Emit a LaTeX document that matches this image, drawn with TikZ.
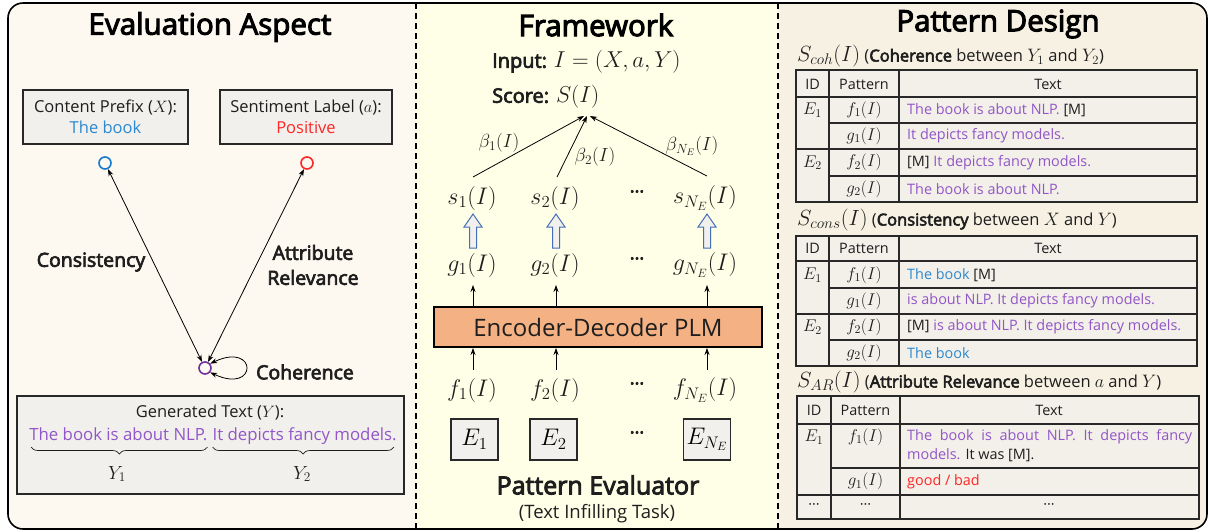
\RequirePackage{fix-cm}
\documentclass[tikz,border=0pt]{standalone}
\usepackage[no-math]{fontspec}
\setmainfont{Open Sans}[AutoFakeBold=3.5]
\usetikzlibrary{arrows.meta,decorations.pathreplacing,calc}
\definecolor{bgL}{RGB}{253,249,241}
\definecolor{bgM}{RGB}{255,255,232}
\definecolor{bgR}{RGB}{247,241,227}
\definecolor{boxg}{RGB}{242,240,236}
\definecolor{tabg}{RGB}{243,239,233}
\definecolor{tblue}{RGB}{44,137,207}
\definecolor{tred}{RGB}{255,38,38}
\definecolor{tpurp}{RGB}{145,86,200}
\definecolor{cblue}{RGB}{20,120,205}
\definecolor{cpurp}{RGB}{112,48,160}
\definecolor{plmfill}{RGB}{244,177,131}
\definecolor{ablue}{RGB}{68,110,185}
\definecolor{edge}{RGB}{40,40,40}
\definecolor{ink}{RGB}{30,30,30}
\begin{document}
\begin{tikzpicture}[x=1pt,y=-1pt,
  title/.style={font=\fontsize{29.5}{34}\selectfont\bfseries, text=black},
  lbl/.style={font=\fontsize{19.5}{25}\selectfont\bfseries, text=ink},
  txt/.style={font=\fontsize{16.5}{21}\selectfont, text=ink},
  mth/.style={font=\fontsize{24}{28}\selectfont, text=ink},
  tabtxt/.style={font=\fontsize{14.4}{19}\selectfont, text=ink, inner sep=0},
  tabmth/.style={font=\fontsize{17}{20}\selectfont, text=ink, inner sep=0},
  hd/.style={font=\fontsize{16.5}{20}\selectfont, text=ink, anchor=west, inner sep=0},
  gbox/.style={draw=edge, line width=1.2pt, fill=boxg, align=center},
  ebox/.style={draw=edge, line width=1.2pt, fill=boxg, minimum width=47, minimum height=41, font=\fontsize{24}{28}\selectfont},
  dot/.style={circle, line width=1.6pt, minimum size=12, inner sep=0, fill=none},
  arr/.style={-{Stealth[length=7pt,width=5pt]}, line width=0.8pt, black},
  darr/.style={{Stealth[length=7pt,width=5pt]}-{Stealth[length=7pt,width=5pt]}, line width=0.8pt, black},
  blk/.style={draw=ablue, fill=boxg, line width=1pt, line join=miter},
  brc/.style={decorate, decoration={brace, mirror, amplitude=7pt}, line width=0.7pt, ink},
  tabline/.style={line width=1.2pt, edge},
  dots/.style={font=\fontsize{18}{22}\selectfont\bfseries, text=ink}
]
\useasboundingbox (0,0) rectangle (1209,531);
% panels
\begin{scope}
\clip[rounded corners=15] (8,3) rectangle (1207,529);
\fill[bgL] (8,3) rectangle (416,529);
\fill[bgM] (416,3) rectangle (778,529);
\fill[bgR] (778,3) rectangle (1207,529);
\end{scope}
\draw[line width=1.6pt, rounded corners=15] (8,3) rectangle (1207,529);
\draw[line width=1.3pt, dash pattern=on 6pt off 4pt] (416,3) -- (416,529);
\draw[line width=1.3pt, dash pattern=on 6pt off 4pt] (778,3) -- (778,529);

% ---------------- left panel
\node[title] (tL) at (210,27) {Evaluation Aspect};
\node[gbox, txt, minimum width=165, minimum height=54] (cp) at (105.5,117) {Content Prefix ($X$):\\\textcolor{tblue}{The book}};
\node[gbox, txt, minimum width=172, minimum height=54] (sl) at (306,117) {Sentiment Label ($a$):\\\textcolor{tred}{Positive}};
\node[dot, draw=cblue] (cx) at (105,163) {};
\node[dot, draw=tred] (ca) at (307,163) {};
\node[dot, draw=cpurp] (cy) at (205,368) {};
\draw[darr] (cy) -- (cx);
\draw[darr] (cy) -- (ca);
\draw[darr] (cy.40) .. controls (258,341) and (258,395) .. (cy.-40);
\node[lbl] (lcons) at (91,262) {Consistency};
\node[lbl, align=center] (lattr) at (313,265) {Attribute\\Relevance};
\node[lbl] (lcoh) at (305,372) {Coherence};
\node[gbox, minimum width=387, minimum height=98] (gt) at (210.5,445) {};
\node[txt] (gtt) at (210,413) {Generated Text ($Y$):};
\node[txt, font=\fontsize{16.8}{21}\selectfont, text=tpurp, anchor=base east, inner sep=0] (ya) at (207.5,440) {The book is about NLP.};
\node[txt, font=\fontsize{16.8}{21}\selectfont, text=tpurp, anchor=base west, inner sep=0] (yb) at (212.5,440) {It depicts fancy models.};
\coordinate (brtop) at (0,447);
\draw[brc] ($(ya.west |- brtop)+(2,0)$) -- (ya.east |- brtop);
\draw[brc] (yb.west |- brtop) -- ($(yb.east |- brtop)+(-3,0)$);
\node[font=\fontsize{19}{22}\selectfont, text=ink] (y1) at (117,474) {$Y_1$};
\node[font=\fontsize{19}{22}\selectfont, text=ink] (y2) at (302,474) {$Y_2$};

% ---------------- middle panel
\node[title] (tM) at (596,25) {Framework};
\node[anchor=west, font=\fontsize{20}{24}\selectfont, inner sep=0, text=ink] (inp) at (492,62) {\textbf{Input:} {\fontsize{23}{26}\selectfont$I=(X,a,Y)$}};
\node[anchor=west, font=\fontsize{20}{24}\selectfont, inner sep=0, text=ink] (score) at (492,97) {\textbf{Score:} {\fontsize{23}{26}\selectfont$S(I)$}};
\coordinate (sc1) at (584,116);
\coordinate (sc2) at (587,116);
\coordinate (sc3) at (590,116);
\node[mth] (s1) at (472,198) {$s_1(I)$};
\node[mth] (s2) at (555,198) {$s_2(I)$};
\node[dots] (sd) at (637,194) {···};
\node[mth] (sn) at (705,198) {$s_{N_E}(I)$};
\node[mth] (g1) at (472,265) {$g_1(I)$};
\node[mth] (g2) at (555,265) {$g_2(I)$};
\node[dots] (gd) at (637,261) {···};
\node[mth] (gn) at (705,265) {$g_{N_E}(I)$};
\node[draw=black, fill=plmfill, line width=1.5pt, minimum width=328, minimum height=40, font=\fontsize{24}{27}\selectfont, text=ink] (plm) at (598,327) {Encoder-Decoder PLM};
\node[mth] (f1) at (472,390) {$f_1(I)$};
\node[mth] (f2) at (555,390) {$f_2(I)$};
\node[dots] (fd) at (637,386) {···};
\node[mth] (fn) at (705,390) {$f_{N_E}(I)$};
\node[ebox] (e1) at (474.5,439.5) {$E_1$};
\node[ebox] (e2) at (553.5,439.5) {$E_2$};
\node[dots] (ed) at (637,435) {···};
\node[ebox] (en) at (707,439.5) {$E_{N_E}$};
\node[font=\fontsize{25}{29}\selectfont\bfseries, text=ink] (pe) at (598,485) {Pattern Evaluator};
\node[txt, font=\fontsize{18.5}{22}\selectfont] (tit) at (597,514) {(Text Infilling Task)};
% arrows
\draw[arr] (473,177) -- (sc1);
\draw[arr] (557,177) -- (sc2);
\draw[arr] (707,176) -- (sc3);
\node[font=\fontsize{19}{22}\selectfont, text=ink] (b1) at (499,143) {$\beta_1(I)$};
\node[font=\fontsize{19}{22}\selectfont, text=ink] (b2) at (595,157) {$\beta_2(I)$};
\node[font=\fontsize{19}{22}\selectfont, text=ink] (b3) at (692,146) {$\beta_{N_E}(I)$};
\foreach \x in {473,556,707}{
  \draw[blk] (\x-3.5,248) -- (\x-3.5,227) -- (\x-9,227) -- (\x,214) -- (\x+9,227) -- (\x+3.5,227) -- (\x+3.5,248) -- cycle;
  \draw[arr] (\x,307) -- (\x,285);
  \draw[arr] (\x,370) -- (\x,348);
}

% ---------------- right panel
\node[title] (tR) at (998,24) {Pattern Design};
% table 1
\node[hd] (h1) at (797,56) {{\fontsize{22}{24}\selectfont$S_{coh}(I)$} (\textbf{Coherence} between {\fontsize{18}{20}\selectfont$Y_1$} and {\fontsize{18}{20}\selectfont$Y_2$})};
\filldraw[tabline, fill=tabg] (796,70) rectangle (1197,202);
\draw[tabline] (796,97) -- (1197,97) (796,149) -- (1197,149) (829,123) -- (1197,123) (829,176) -- (1197,176) (829,70) -- (829,202) (899,70) -- (899,202);
\node[tabtxt] at (812.5,84) {ID};
\node[tabtxt] at (864,84) {Pattern};
\node[tabtxt] at (1048,84) {Text};
\node[tabmth] at (812.5,110) {$E_1$};
\node[tabmth] at (812.5,162.5) {$E_2$};
\node[tabmth] at (864,110) {$f_1(I)$};
\node[tabmth] at (864,136) {$g_1(I)$};
\node[tabmth] at (864,162.5) {$f_2(I)$};
\node[tabmth] at (864,189) {$g_2(I)$};
\node[tabtxt, anchor=west] at (907,110) {\textcolor{tpurp}{The book is about NLP.} [M]};
\node[tabtxt, anchor=west] at (907,136) {\textcolor{tpurp}{It depicts fancy models.}};
\node[tabtxt, anchor=west] at (907,162.5) {[M] \textcolor{tpurp}{It depicts fancy models.}};
\node[tabtxt, anchor=west] at (907,189) {\textcolor{tpurp}{The book is about NLP.}};
% table 2
\node[hd] (h2) at (797,220) {{\fontsize{22}{24}\selectfont$S_{cons}(I)$} (\textbf{Consistency} between {\fontsize{18}{20}\selectfont$X$} and {\fontsize{18}{20}\selectfont$Y$})};
\filldraw[tabline, fill=tabg] (796,236) rectangle (1197,366);
\draw[tabline] (796,261) -- (1197,261) (796,314) -- (1197,314) (829,288) -- (1197,288) (829,340) -- (1197,340) (829,236) -- (829,366) (899,236) -- (899,366);
\node[tabtxt] at (812.5,248.5) {ID};
\node[tabtxt] at (864,248.5) {Pattern};
\node[tabtxt] at (1048,248.5) {Text};
\node[tabmth] at (812.5,275) {$E_1$};
\node[tabmth] at (812.5,327) {$E_2$};
\node[tabmth] at (864,275) {$f_1(I)$};
\node[tabmth] at (864,301) {$g_1(I)$};
\node[tabmth] at (864,327) {$f_2(I)$};
\node[tabmth] at (864,353) {$g_2(I)$};
\node[tabtxt, anchor=west] at (907,275) {\textcolor{tblue}{The book} [M]};
\node[tabtxt, anchor=west] at (907,301) {\textcolor{tpurp}{is about NLP. It depicts fancy models.}};
\node[tabtxt, anchor=west] at (907,327) {[M] \textcolor{tpurp}{is about NLP. It depicts fancy models.}};
\node[tabtxt, anchor=west] at (907,353) {\textcolor{tblue}{The book}};
% table 3
\node[hd] (h3) at (797,382) {{\fontsize{22}{24}\selectfont$S_{AR}(I)$} (\textbf{Attribute Relevance} between {\fontsize{18}{20}\selectfont$a$} and {\fontsize{18}{20}\selectfont$Y$})};
\filldraw[tabline, fill=tabg] (797,396) rectangle (1199,519);
\draw[tabline] (797,424) -- (1199,424) (797,495) -- (1199,495) (831,468) -- (1199,468) (831,396) -- (831,519) (900,396) -- (900,519);
\node[tabtxt] at (814,410) {ID};
\node[tabtxt] at (865.5,410) {Pattern};
\node[tabtxt] at (1049,410) {Text};
\node[tabmth] at (814,437) {$E_1$};
\node[tabmth] at (865.5,437) {$f_1(I)$};
\node[tabmth] at (865.5,481.5) {$g_1(I)$};
\node[tabtxt, anchor=north west, align=left] at (907,429) {\makebox[285pt][s]{\textcolor{tpurp}{The book is about NLP. It depicts fancy}}\\\textcolor{tpurp}{models.} It was [M].};
\node[tabtxt, anchor=west] at (907,481.5) {\textcolor{tred}{good / bad}};
\node[tabtxt] at (814,506) {···};
\node[tabtxt] at (865.5,506) {···};
\node[tabtxt] at (1049,506) {···};
\end{tikzpicture}
\end{document}
